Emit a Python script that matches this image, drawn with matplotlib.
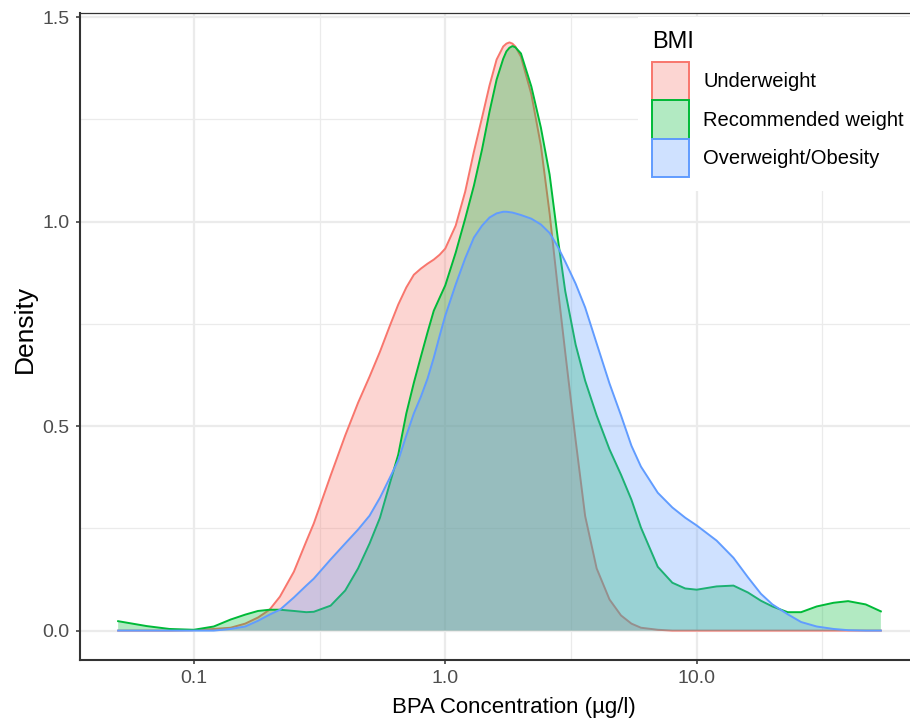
import numpy as np
import matplotlib
matplotlib.use("Agg")
import matplotlib.pyplot as plt
from matplotlib.patches import Patch
from matplotlib.colors import to_rgba
from matplotlib.ticker import NullFormatter

plt.rcParams["font.family"] = ["Liberation Sans", "DejaVu Sans"]

# BPA concentration (ug/l) at which the density curves were read
bpa = [0.05, 0.065, 0.08, 0.1, 0.12, 0.14, 0.16, 0.18, 0.2, 0.22,
       0.25, 0.28, 0.3, 0.35, 0.4, 0.45, 0.5, 0.55, 0.6, 0.65,
       0.7, 0.75, 0.8, 0.85, 0.9, 0.95, 1.0, 1.1, 1.2, 1.3,
       1.4, 1.5, 1.6, 1.7, 1.75, 1.8, 1.85, 1.9, 2.0, 2.2, 2.4, 2.6,
       2.8, 3.0, 3.3, 3.6, 4.0, 4.5, 5.0, 5.5, 6.0, 7.0,
       8.0, 9.0, 10, 12, 14, 16, 18, 20, 23, 26,
       30, 35, 40, 47, 54]

underweight = [0.000, 0.000, 0.000, 0.001, 0.004, 0.007, 0.017, 0.032, 0.051, 0.083,
               0.144, 0.218, 0.262, 0.379, 0.477, 0.557, 0.621, 0.682, 0.743, 0.797,
               0.839, 0.870, 0.885, 0.897, 0.907, 0.919, 0.934, 0.990, 1.073, 1.171,
               1.254, 1.333, 1.396, 1.428, 1.435, 1.438, 1.435, 1.428, 1.403, 1.311, 1.186, 1.020,
               0.840, 0.680, 0.465, 0.280, 0.152, 0.076, 0.037, 0.017, 0.007, 0.002,
               0.000, 0.000, 0.000, 0.000, 0.000, 0.000, 0.000, 0.000, 0.000, 0.000,
               0.000, 0.000, 0.000, 0.000, 0.000]

recommended = [0.023, 0.011, 0.004, 0.002, 0.010, 0.027, 0.039, 0.048, 0.051, 0.051,
               0.048, 0.045, 0.046, 0.061, 0.098, 0.152, 0.213, 0.276, 0.357, 0.430,
               0.531, 0.606, 0.670, 0.729, 0.782, 0.814, 0.844, 0.924, 1.007, 1.088,
               1.176, 1.269, 1.347, 1.398, 1.416, 1.425, 1.429, 1.426, 1.411, 1.330, 1.230, 1.115,
               0.961, 0.830, 0.699, 0.611, 0.526, 0.443, 0.381, 0.320, 0.252, 0.156,
               0.117, 0.103, 0.100, 0.108, 0.110, 0.093, 0.073, 0.059, 0.045, 0.045,
               0.059, 0.068, 0.072, 0.064, 0.047]

overweight = [0.000, 0.000, 0.000, 0.000, 0.000, 0.004, 0.010, 0.024, 0.039, 0.051,
              0.081, 0.110, 0.127, 0.174, 0.213, 0.247, 0.281, 0.325, 0.372, 0.416,
              0.477, 0.531, 0.572, 0.616, 0.667, 0.721, 0.770, 0.846, 0.910, 0.961,
              0.990, 1.010, 1.020, 1.024, 1.024, 1.023, 1.022, 1.020, 1.016, 1.007, 0.993, 0.972,
              0.939, 0.902, 0.848, 0.790, 0.702, 0.604, 0.526, 0.452, 0.401, 0.337,
              0.301, 0.276, 0.257, 0.220, 0.178, 0.130, 0.090, 0.064, 0.040, 0.021,
              0.010, 0.004, 0.001, 0.000, 0.000]

groups = ["Underweight", "Recommended weight", "Overweight/Obesity"]
colors = ["#F8766D", "#00BA38", "#619CFF"]
x_ticks = [0.1, 1.0, 10.0]
x_ticklabels = ["0.1", "1.0", "10.0"]
y_ticks = [0.0, 0.5, 1.0, 1.5]

W, H = 910, 726
fig = plt.figure(figsize=(W / 100, H / 100), dpi=100)
# panel runs a little past the right edge of the image, like the reference crop
ax = fig.add_axes([80 / W, 66 / H, 839 / W, 647 / H])
ax.set_xscale("log")

for name, dens, c in zip(groups, [underweight, recommended, overweight], colors):
    ax.fill_between(bpa, 0, dens, facecolor=to_rgba(c, 0.3), edgecolor="none", zorder=2)
    ax.plot(bpa, dens, color=c, lw=1.4, zorder=2, solid_joinstyle="round")

# ggplot-style 5% expansion
lo, hi = np.log10(bpa[0]), np.log10(bpa[-1])
pad = 0.05 * (hi - lo)
ax.set_xlim(10 ** (lo - pad), 10 ** (hi + pad))
ymax = max(max(underweight), max(recommended), max(overweight))
ax.set_ylim(-0.05 * ymax, 1.05 * ymax)

ax.set_xticks(x_ticks)
ax.set_xticklabels(x_ticklabels)
ax.set_xticks([10 ** -0.5, 10 ** 0.5, 10 ** 1.5], minor=True)
ax.xaxis.set_minor_formatter(NullFormatter())
ax.set_yticks(y_ticks)
ax.set_yticklabels([f"{v:.1f}" for v in y_ticks])
ax.set_yticks([0.25, 0.75, 1.25], minor=True)

ax.set_axisbelow(True)
ax.grid(which="major", color="#EBEBEB", lw=1.6)
ax.grid(which="minor", color="#EBEBEB", lw=0.9)
ax.tick_params(which="major", length=3, width=1.1, color="#333333",
               labelcolor="#4D4D4D", labelsize=14, pad=4.5)
ax.tick_params(which="minor", length=0)

for side in ["left", "bottom"]:
    ax.spines[side].set_color("#333333"); ax.spines[side].set_linewidth(1.5)
ax.spines["top"].set_color("#333333"); ax.spines["top"].set_linewidth(0.9)
ax.spines["right"].set_visible(False)

ax.set_xlabel("BPA Concentration (\u00b5g/l)", fontsize=16)
ax.xaxis.set_label_coords(0.517, -0.057)
ax.set_ylabel("Density", fontsize=19)
ax.yaxis.set_label_coords(-0.051, 0.512)

handles = [Patch(facecolor=to_rgba(c, 0.3), edgecolor=c, linewidth=1.4, label=g)
           for g, c in zip(groups, colors)]
leg = ax.legend(handles=handles, title="BMI", loc="upper left",
                bbox_to_anchor=(638 / W, 1 - 17 / H), bbox_transform=fig.transFigure,
                frameon=True, fancybox=False, framealpha=1, facecolor="white",
                edgecolor="none", fontsize=14.5, title_fontsize=17, alignment="left",
                handlelength=1.83, handleheight=2.55, labelspacing=0.0,
                handletextpad=0.7, borderpad=0.7, borderaxespad=0)
leg._legend_box.sep = 6.5   # gap between "BMI" and the keys
leg.set_zorder(5)

fig.savefig("out.png", dpi=100)
